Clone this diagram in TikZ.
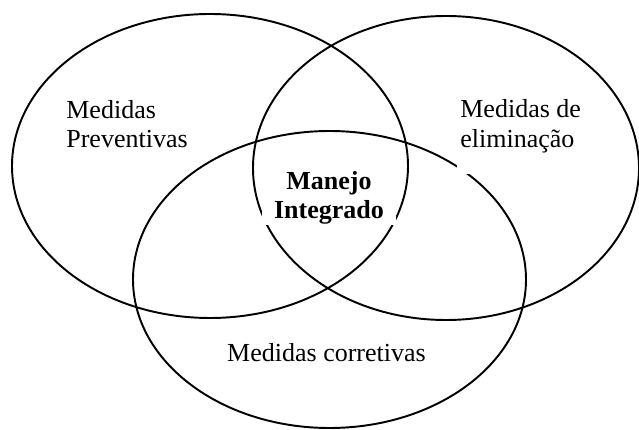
\documentclass[tikz,border=0pt]{standalone}
\usepackage{fontspec}
\setmainfont{Liberation Serif}
\usepackage{tikz}
\tikzset{circulo/.style={line width=1.1pt},
  rotulo/.style={inner sep=0pt,font=\fontsize{14.8}{16.8}\selectfont}}

\begin{document}
\begin{tikzpicture}

  \useasboundingbox (0,0) rectangle (12.78,8.6);

  \draw [circulo] (4.20,5.28) ellipse (3.96 and 3.04);
  \draw [circulo] (8.92,5.24) ellipse (3.86 and 3.04);
  \draw [circulo] (6.59,3.01) ellipse (3.93 and 2.97);



  \node [rotulo,anchor=west,align=left] (prev) at (1.32,6.12) {Medidas\\Preventivas};
  \node [rotulo,anchor=west,align=left,fill=white,inner xsep=0.06cm,inner ysep=0.42cm]
    (elim) at (9.14,6.08) {Medidas de\\eliminação};
  \node [rotulo] (corr) at (6.53,1.55) {Medidas corretivas};


  \node [rotulo,align=center,fill=white,inner xsep=0.25cm,inner ysep=0.01cm,
    font=\fontsize{14.8}{16.8}\selectfont\bfseries] (manejo) at (6.58,4.64) {Manejo\\Integrado};


\end{tikzpicture}
\end{document}
